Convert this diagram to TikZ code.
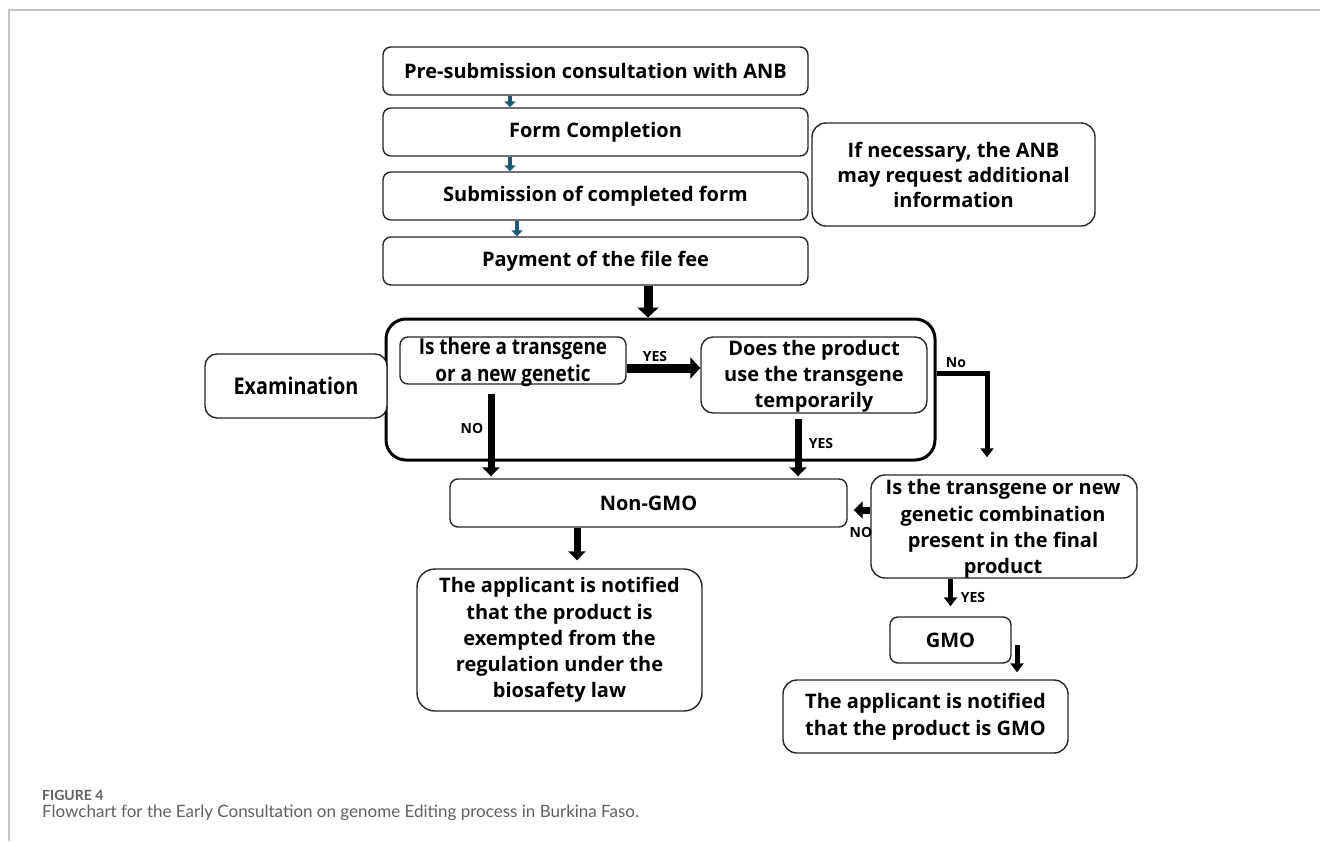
\documentclass[tikz,border=0pt]{standalone}
\usepackage{fontspec}
\setmainfont{Open Sans}
\newfontfamily\condfont[FakeStretch=0.86]{Open Sans}
\newfontfamily\capfont{Lato}
\usetikzlibrary{arrows.meta,calc}
\definecolor{edgegray}{HTML}{262626}
\definecolor{stepblue}{HTML}{1E5878}
\definecolor{framegray}{HTML}{C4C4C4}
\definecolor{capgray}{HTML}{606060}
\begin{document}
\begin{tikzpicture}[x=1pt,y=-1pt,
  box/.style={draw=edgegray, line width=1.4pt, rounded corners=8pt, fill=white,
    inner sep=0pt, align=center, font=\bfseries\fontsize{20}{25}\selectfont},
  boxtext/.style={inner sep=0pt, align=center, font=\bfseries\fontsize{20}{26.3}\selectfont},
  condbox/.style={box, font=\condfont\bfseries\fontsize{23}{27}\selectfont},
  condtext/.style={inner sep=0pt, align=center, font=\condfont\bfseries\fontsize{22}{27}\selectfont},
  lbl/.style={inner sep=0pt, font=\bfseries\fontsize{14}{16}\selectfont},
  bluearrow/.style={draw=stepblue, line width=4pt, -{Triangle[length=6pt,width=11pt]}},
  fatarrow/.style={draw=black, line width=9pt, -{Triangle[length=10pt,width=21pt]}},
  midarrow/.style={draw=black, line width=7pt, -{Triangle[length=9pt,width=17pt]}},
  slimarrow/.style={draw=black, line width=5pt, -{Triangle[length=9pt,width=13pt]}},
]
\useasboundingbox (0,0) rectangle (1320,841);

% page frame
\draw[framegray, line width=1.5pt] (9,841) -- (9,10) -- (1320,10);

% column and row guides for the connectors
\coordinate (colblue) at (510,0);
\coordinate (colblueb) at (517,0);
\coordinate (colpay) at (648,0);
\coordinate (colno) at (491,0);
\coordinate (colyes) at (798,0);
\coordinate (colelbow) at (987,0);
\coordinate (colnotify) at (577,0);
\coordinate (colgmo) at (1017,0);
\coordinate (rowyes) at (0,368);
\coordinate (rowno) at (0,373);
\coordinate (rowback) at (0,510);

% application steps
\node[box, minimum width=425, minimum height=48] (b1) at (595.5,71) {Pre-submission consultation with ANB};
\node[box, minimum width=425, minimum height=48] (b2) at (595.5,132) {Form Completion};
\node[box, minimum width=425, minimum height=48] (b3) at (595.5,196) {Submission of completed form};
\node[box, minimum width=425, minimum height=48] (b4) at (595.5,261) {Payment of the file fee};
\node[box, minimum width=283, minimum height=103, rounded corners=14pt] (side) at (953.5,174.5)
  {If necessary, the ANB\\may request additional\\information};

% examination block
\node[draw=black, line width=3pt, rounded corners=20pt, minimum width=549, minimum height=141, inner sep=0pt]
  (cont) at (660.5,389.5) {};
\node[condbox, minimum width=182, minimum height=64, rounded corners=12pt] (exam) at (296,386) {Examination};
\node[box, minimum width=226, minimum height=47] (q1) at (513,360.5) {};
\node[condtext] (q1t) at (513,362) {Is there a transgene\\or a new genetic};
\node[box, minimum width=226, minimum height=76, rounded corners=12pt] (q2) at (814,375) {};
\node[boxtext, font=\bfseries\fontsize{20}{26}\selectfont] (q2t) at (814,376) {Does the product\\use the transgene\\temporarily};

% outcomes
\node[box, minimum width=397, minimum height=48] (ngmo) at (648.5,503) {Non-GMO};
\node[box, minimum width=266, minimum height=103, rounded corners=14pt] (q3) at (1004,526.5) {};
\node[boxtext] (q3t) at (1003,529) {Is the transgene or new\\genetic combination\\present in the final\\product};
\node[box, minimum width=285, minimum height=142, rounded corners=18pt, font=\bfseries\fontsize{20}{26.25}\selectfont]
  (fin1) at (559.5,640) {The applicant is notified\\that the product is\\exempted from the\\regulation under the\\biosafety law};
\node[box, minimum width=121, minimum height=46] (gmo) at (950.5,640) {GMO};
\node[box, minimum width=285, minimum height=73, rounded corners=14pt, font=\bfseries\fontsize{20}{27}\selectfont]
  (fin2) at (925.5,716.5) {The applicant is notified\\that the product is GMO};

% connectors
\draw[bluearrow] (b1.south -| colblue) -- (b2.north -| colblue);
\draw[bluearrow] (b2.south -| colblue) -- (b3.north -| colblue);
\draw[bluearrow] (b3.south -| colblueb) -- (b4.north -| colblueb);
\draw[fatarrow] (b4.south -| colpay) -- (cont.north -| colpay);
\draw[fatarrow] (q1.east |- rowyes) -- (q2.west |- rowyes);
\draw[midarrow] ($(q1.south -| colno)+(0,9)$) -- ($(ngmo.north -| colno)+(0,-2)$);
\draw[midarrow] ($(q2.south -| colyes)+(0,5)$) -- ($(ngmo.north -| colyes)+(0,-2)$);
\draw[slimarrow] (cont.east |- rowno) -| ($(q3.north -| colelbow)+(0,-17)$);
\draw[midarrow] (q3.west |- rowback) -- ($(ngmo.east |- rowback)+(6,0)$);
\draw[midarrow] (ngmo.south -| colnotify) -- ($(fin1.north -| colnotify)+(0,-8)$);
\draw[slimarrow] (q3.south -| gmo.north) -- ($(gmo.north)+(0,-10)$);
\draw[slimarrow] ($(gmo.center -| colgmo)+(0,5)$) -- ($(fin2.north -| colgmo)+(0,-7)$);

% branch labels
\node[lbl] (lyes1) at (655,356) {YES};
\node[lbl] (lno1) at (472,428) {NO};
\node[lbl] (lyes2) at (821,443) {YES};
\node[lbl] (lno2) at (956,363) {No};
\node[lbl] (lno3) at (861,532) {NO};
\node[lbl] (lyes3) at (973,597) {YES};

% caption
\node[anchor=west, inner sep=0pt, text=capgray, font=\capfont\bfseries\fontsize{14}{16}\selectfont] (capnum) at (42,795) {FIGURE 4};
\node[anchor=west, inner sep=0pt, text=capgray, font=\capfont\fontsize{17}{20}\selectfont] (captext) at (42,813)
  {Flowchart for the Early Consultation on genome Editing process in Burkina Faso.};
\end{tikzpicture}
\end{document}
